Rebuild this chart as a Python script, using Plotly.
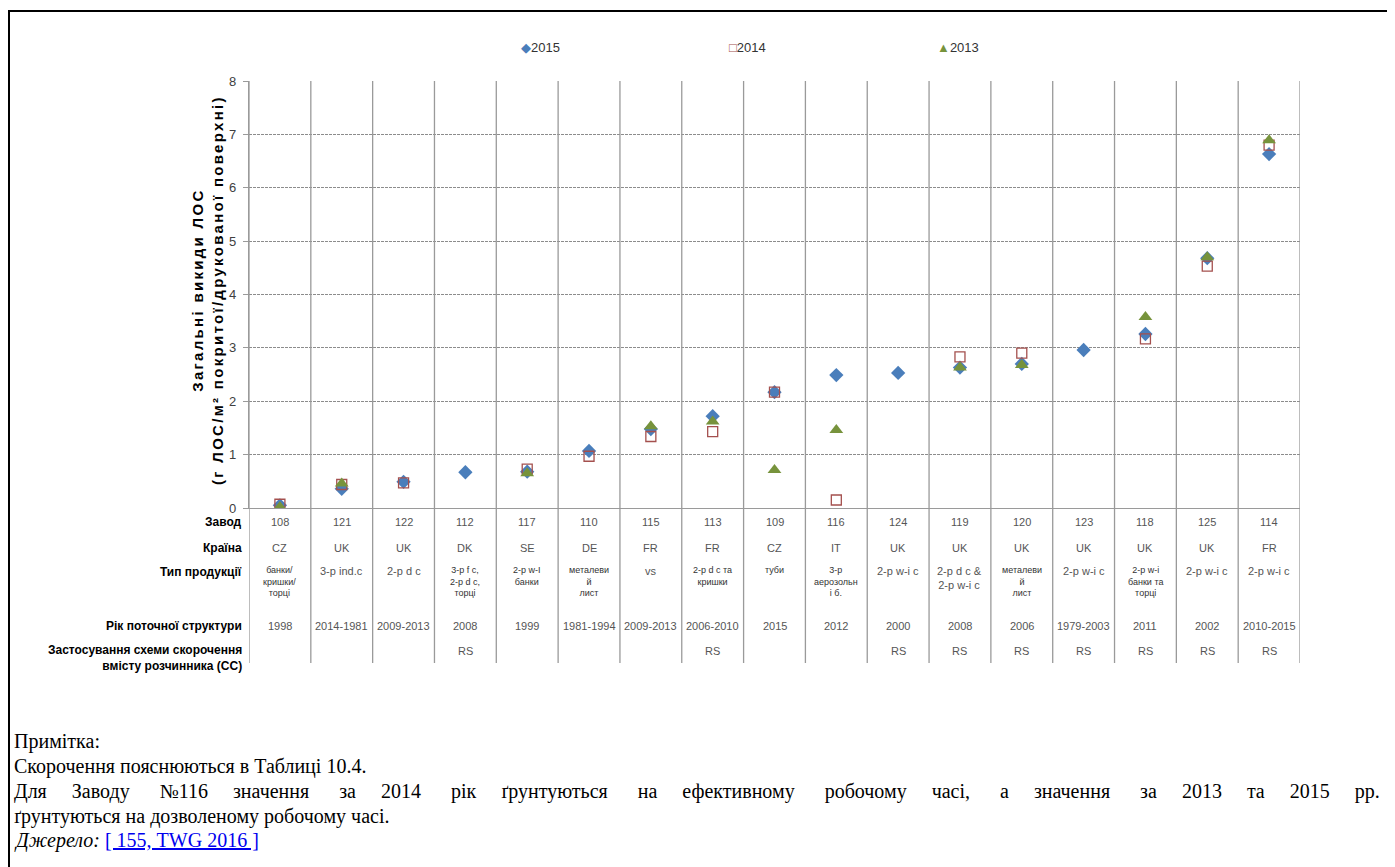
import plotly.graph_objects as go

plants = ["108", "121", "122", "112", "117", "110", "115", "113", "109",
          "116", "124", "119", "120", "123", "118", "125", "114"]
countries = ["CZ", "UK", "UK", "DK", "SE", "DE", "FR", "FR", "CZ",
             "IT", "UK", "UK", "UK", "UK", "UK", "UK", "FR"]
products = ["банки/<br>кришки/<br>торці", "3-p ind.c", "2-p d c",
            "3-p f c,<br>2-p d c,<br>торці", "2-p w-I<br>банки",
            "металеви<br>й<br>лист", "vs", "2-p d c та<br>кришки", "туби",
            "3-p<br>аерозольн<br>і б.", "2-p w-i c", "2-p d c &<br>2-p w-i c",
            "металеви<br>й<br>лист", "2-p w-i c", "2-p w-i<br>банки та<br>торці",
            "2-p w-i c", "2-p w-i c"]
years = ["1998", "2014-1981", "2009-2013", "2008", "1999", "1981-1994",
         "2009-2013", "2006-2010", "2015", "2012", "2000", "2008", "2006",
         "1979-2003", "2011", "2002", "2010-2015"]
scheme = ["", "", "", "RS", "", "", "", "RS", "", "", "RS", "RS", "RS",
          "RS", "RS", "RS", "RS"]

v2015 = [0.05, 0.36, 0.49, 0.67, 0.68, 1.07, 1.48, 1.72, 2.17, 2.49, 2.53,
         2.63, 2.70, 2.96, 3.26, 4.68, 6.63]
v2014 = [0.07, 0.44, 0.47, None, 0.73, 0.97, 1.34, 1.43, 2.17, 0.15, None,
         2.83, 2.90, None, 3.17, 4.53, 6.80]
v2013 = [0.02, 0.46, None, None, 0.65, None, 1.53, 1.62, 0.71, 1.46, None,
         2.63, 2.68, None, 3.58, 4.70, 6.89]

C15, C14, C13 = "#4A7EBB", "#A4504E", "#77933C"

W, H = 1395, 867
OFF = 8  # page body margin


def px(p):
    return (p - OFF) / W


def py(p):
    return 1 - (p - OFF) / H


fig = go.Figure()
fig.add_trace(go.Scatter(x=plants, y=v2015, mode="markers", name="2015",
                         marker=dict(symbol="diamond", size=11, color=C15)))
fig.add_trace(go.Scatter(x=plants, y=v2014, mode="markers", name="2014",
                         marker=dict(symbol="square-open", size=10, color=C14,
                                     line=dict(width=1.3))))
fig.add_trace(go.Scatter(x=plants, y=v2013, mode="markers", name="2013",
                         marker=dict(symbol="triangle-up", size=12, color=C13)))

cell_font = dict(family="Liberation Sans, Arial", size=11, color="#555555")
small_font = dict(family="Liberation Sans, Arial", size=9, color="#333333")
label_font = dict(family="Liberation Sans, Arial", size=12, color="black")

ann = []
for i in range(len(plants)):
    ann.append(dict(x=i, y=py(522), text=plants[i], font=cell_font))
    ann.append(dict(x=i, y=py(548), text=countries[i], font=cell_font))
    f = small_font if any(ord(c) > 1000 for c in products[i]) else cell_font
    ann.append(dict(x=i, y=py(563), text=products[i], font=f, yanchor="top"))
    ann.append(dict(x=i, y=py(626), text=years[i], font=cell_font))
    if scheme[i]:
        ann.append(dict(x=i, y=py(651), text=scheme[i], font=cell_font))
for a in ann:
    a.update(xref="x", yref="paper", showarrow=False)
    a.setdefault("yanchor", "middle")

row_labels = [("Завод", 522), ("Країна", 548), ("Тип продукції", 572),
              ("Рік поточної структури", 626),
              ("Застосування схеми скорочення<br>вмісту розчинника (СС)", 658)]
for t, y in row_labels:
    ann.append(dict(x=px(244), y=py(y), xref="paper", yref="paper", text="<b>%s</b>" % t,
                    xanchor="right", yanchor="middle", align="right", showarrow=False,
                    font=label_font))

# legend drawn as text
legend_items = [("◆", C15, "2015", 519), ("□", C14, "2014", 727), ("▲", C13, "2013", 935)]
for sym, col, name, x in legend_items:
    ann.append(dict(x=px(x), y=py(48), xref="paper", yref="paper",
                    text="<span style=\"color:%s\">%s</span>%s" % (col, sym, name),
                    xanchor="left", yanchor="middle", showarrow=False,
                    font=dict(family="Liberation Sans, Arial", size=13, color="#333333")))

# y-axis title
ann.append(dict(x=px(207), y=py(290), xref="paper", yref="paper", textangle=-90,
                text="<span style=\"letter-spacing:2.3px\"><b>Загальні викиди ЛОС<br>"
                     "(г ЛОС/м² покритої/друкованої поверхні)</b></span>",
                showarrow=False, xanchor="center", yanchor="middle",
                font=dict(family="Liberation Sans, Arial", size=15, color="black")))

NB = "\u00a0"
long_line = "Для Заводу №116 значення за 2014 рік ґрунтуються на ефективному робочому часі, " \
            "а значення за 2013 та 2015 рр."
words = long_line.split(" ")
just = words[0]
for k, w in enumerate(words[1:]):
    just += NB * (6 if (k % 2 and k < 14) else 5) + w

notes = [
    ("Примітка:", 741),
    ("Скорочення пояснюються в Таблиці 10.4.", 766),
    (just, 791),
    ("ґрунтуються на дозволеному робочому часі.", 816),
    ("<i>Джерело:</i> <span style=\"color:#0000EE;text-decoration:underline\">"
     "[ 155, TWG 2016 ]</span>", 840),
]
for t, y in notes:
    ann.append(dict(x=px(12), y=py(y), xref="paper", yref="paper", text=t,
                    xanchor="left", yanchor="middle", showarrow=False,
                    font=dict(family="Liberation Serif, Times New Roman", size=20,
                              color="black")))

shapes = []
for i in range(len(plants) + 1):
    shapes.append(dict(type="line", xref="x", yref="paper", x0=i - 0.5, x1=i - 0.5,
                       y0=py(663), y1=py(81), line=dict(color="#9A9A9A", width=1.3)))
shapes.append(dict(type="rect", xref="paper", yref="paper", x0=px(9), x1=1.05,
                   y0=-0.05, y1=py(11), line=dict(color="black", width=2)))

fig.update_layout(
    width=W, height=H,
    margin=dict(l=0, r=0, t=0, b=0, autoexpand=False),
    plot_bgcolor="white", paper_bgcolor="white",
    showlegend=False,
    xaxis=dict(type="category", domain=[px(249), px(1300)], range=[-0.5, len(plants) - 0.5],
               showgrid=False, showticklabels=False, showline=True, linecolor="#9A9A9A",
               linewidth=1.3, zeroline=False, fixedrange=True),
    yaxis=dict(domain=[py(508), py(81)], range=[0, 8], dtick=1, showgrid=True,
               gridcolor="#8C8C8C", griddash="3px,1px", gridwidth=1,
               showline=True, linecolor="#9A9A9A", linewidth=1.3,
               ticks="outside", ticklen=5, tickcolor="#9A9A9A", ticklabelstandoff=4,
               tickfont=dict(family="Liberation Sans, Arial", size=13, color="#404040"),
               zeroline=False),
    annotations=ann,
    shapes=shapes,
)

fig.write_html("out.html")
